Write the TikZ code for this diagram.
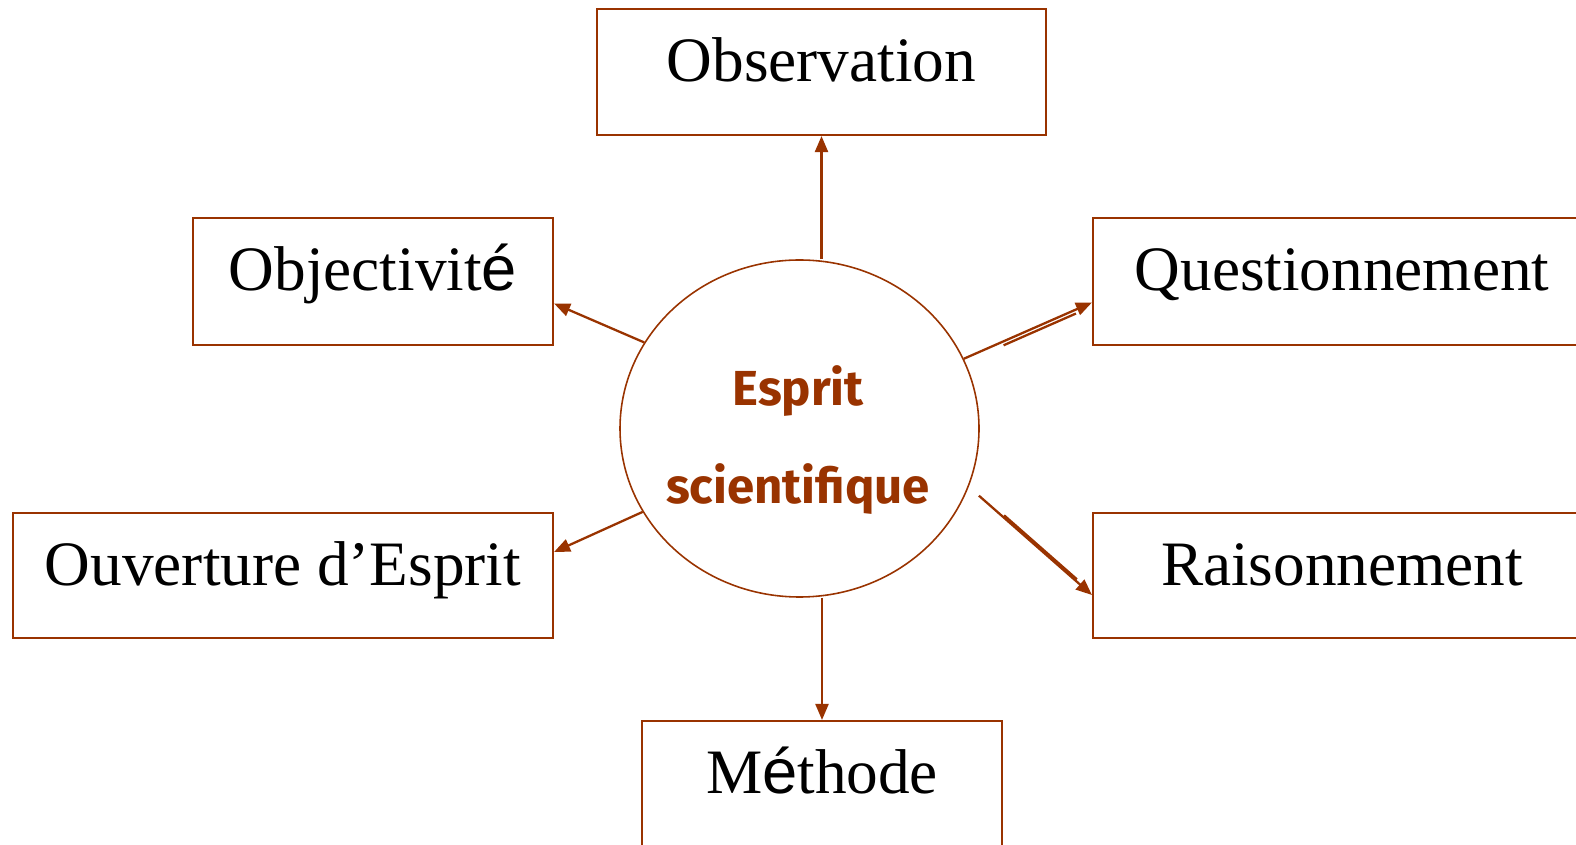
\documentclass[tikz,border=0pt]{standalone}
\usepackage{fontspec}
\setmainfont{Liberation Serif}
\newfontfamily\accfont{Liberation Sans}
\newfontfamily\bullefont{Fira Sans}
\usepackage{tikz}
\usetikzlibrary{positioning,shapes.geometric,arrows.meta}
\definecolor{brique}{HTML}{993300}
\tikzset{
  boite/.style={draw=brique, line width=1.2pt, inner sep=0pt, text height=0.85cm, text depth=0.47cm, font=\fontsize{36}{40}\selectfont},
  fleche/.style={draw=brique, line width=1.3pt, -{Triangle[length=0.32cm,width=0.26cm]}},
  trait/.style={draw=brique, line width=1.3pt},
  bulle/.style={ellipse, draw=brique, line width=0.9pt, minimum width=7.18cm, minimum height=6.74cm},
  titre/.style={align=center, text=brique, font=\bullefont\bfseries\fontsize{28}{55.8}\selectfont}
}

\begin{document}
\begin{tikzpicture}
\useasboundingbox (0,0) rectangle (31.52,16.88);

\node[bulle] (esprit) at (15.99,8.31) {};
\node[titre] (esprit-txt) at (15.96,8.08) {Esprit\\scientifique};

\node[boite, minimum width=8.98cm, minimum height=2.52cm] (obs) at (16.43,15.44) {Observation};
\node[boite, minimum width=7.2cm, minimum height=2.54cm] (obj) at (7.46,11.25) {Objectivit{\accfont é}};
\node[boite, minimum width=9.96cm, minimum height=2.54cm] (que) at (26.84,11.25) {Questionnement};
\node[boite, minimum width=10.8cm, minimum height=2.5cm] (ouv) at (5.66,5.37) {Ouverture d’Esprit};
\node[boite, minimum width=9.96cm, minimum height=2.5cm] (rai) at (26.84,5.37) {Raisonnement};
\node[boite, minimum width=7.2cm, minimum height=2.52cm] (met) at (16.44,1.2) {M{\accfont é}thode};

\draw[fleche] (obs.south |- esprit.north) -- (obs.south);
\draw[fleche] (esprit.151.9) -- ([yshift=-0.44cm]obj.east);
\draw[fleche] (esprit.208.2) -- ([yshift=0.47cm]ouv.east);
\draw[fleche] (esprit.23.7) -- ([yshift=-0.42cm]que.west);
\draw[trait, shorten <=0.87cm, shorten >=0.35cm, transform canvas={yshift=-0.08cm}] (esprit.23.7) -- ([yshift=-0.42cm]que.west);
\draw[fleche, shorten <=0.27cm] (esprit.-19.5) -- ([yshift=-0.39cm]rai.west);
\draw[trait, shorten <=0.94cm, shorten >=0.4cm, transform canvas={yshift=0.05cm}] (esprit.-19.5) -- ([yshift=-0.39cm]rai.west);
\draw[fleche] (met.north |- esprit.south) -- (met.north);
\end{tikzpicture}
\end{document}
